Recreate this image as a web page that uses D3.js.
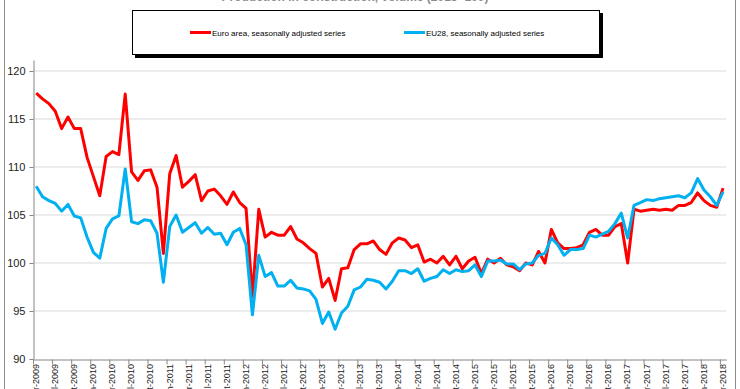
<!DOCTYPE html>
<html>
<head>
<meta charset="utf-8">
<script src="https://cdn.jsdelivr.net/npm/d3@7"></script>
<style>
  body { margin: 0; background: #fff; }
  svg { display: block; font-family: "Liberation Sans", Arial, sans-serif; }
</style>
</head>
<body>
<svg id="chart"></svg>
<script>
// monthly, Apr-2009 .. Apr-2018
var months = d3.timeMonth.range(new Date(2009, 3, 1), new Date(2018, 4, 1));

var euroArea = [
  117.7, 117.1, 116.6, 115.8, 114.0, 115.2, 114.0, 114.0, 111.0, 109.0,
  107.0, 111.1, 111.6, 111.3, 117.6, 109.5, 108.6, 109.6, 109.7, 107.9,
  101.0, 109.3, 111.2, 107.9, 108.5, 109.2, 106.5, 107.5, 107.7, 107.0,
  106.1, 107.4, 106.3, 105.7, 96.5, 105.6, 102.7, 103.2, 102.9, 102.9,
  103.8, 102.5, 102.1, 101.5, 101.0, 97.5, 98.4, 96.1, 99.4, 99.5,
  101.4, 102.0, 102.0, 102.3, 101.4, 100.9, 102.1, 102.6, 102.4, 101.6,
  101.9, 100.1, 100.4, 100.0, 100.7, 99.8, 100.7, 99.4, 100.2, 100.6,
  98.9, 100.4, 100.0, 100.5, 99.8, 99.6, 99.2, 100.0, 99.8, 101.2,
  100.0, 103.5, 102.1, 101.5, 101.5, 101.6, 101.9, 103.2, 103.5, 102.9,
  102.9, 103.8, 104.1, 100.0, 105.6, 105.4, 105.5, 105.6, 105.5, 105.6,
  105.5, 106.0, 106.0, 106.3, 107.3, 106.5, 106.0, 105.8, 107.8
];

var eu28 = [
  108.0, 106.9, 106.5, 106.2, 105.4, 106.1, 104.9, 104.7, 102.7, 101.1,
  100.5, 103.6, 104.6, 104.9, 109.8, 104.3, 104.1, 104.5, 104.4, 103.1,
  98.0, 103.8, 105.0, 103.2, 103.7, 104.2, 103.1, 103.7, 103.0, 103.1,
  101.9, 103.2, 103.6, 101.9, 94.6, 100.8, 98.6, 99.0, 97.6, 97.6,
  98.2, 97.4, 97.3, 97.1, 96.2, 93.7, 94.9, 93.1, 94.8, 95.5,
  97.2, 97.5, 98.3, 98.2, 98.0, 97.3, 98.1, 99.2, 99.2, 98.9,
  99.4, 98.1, 98.4, 98.6, 99.3, 98.9, 99.3, 99.1, 99.2, 99.8,
  98.6, 100.2, 100.2, 100.3, 99.9, 99.9, 99.3, 99.9, 100.0, 100.8,
  101.0, 102.6, 101.9, 100.8, 101.4, 101.4, 101.5, 102.9, 102.7, 103.0,
  103.3, 104.1, 105.2, 102.6, 106.0, 106.3, 106.6, 106.5, 106.7, 106.8,
  106.9, 107.0, 106.8, 107.3, 108.8, 107.6, 106.9, 106.0, 107.4
];

var yTicks = [90, 95, 100, 105, 110, 115, 120];
var monthFmt = d3.timeFormat("%b-%Y");

var width = 740, height = 389;
var svg = d3.select("#chart").attr("width", width).attr("height", height);

// outer frame (top and bottom fall outside the picture)
svg.append("rect")
  .attr("x", 4.5).attr("y", -20)
  .attr("width", 731).attr("height", 430)
  .attr("fill", "none").attr("stroke", "#8c8c8c");

// cut-off title
svg.append("text")
  .attr("x", 355).attr("y", 0.5)
  .attr("text-anchor", "middle")
  .style("font-size", "12px").style("font-weight", "bold")
  .attr("fill", "#8c8c8c")
  .text("Production in construction, volume (2015=100)");

var x = d3.scaleBand().domain(months).range([33, 33 + months.length * 6.36]).padding(0);
var xEdge = d3.scaleLinear().domain([0, months.length]).range(x.range());
var y = d3.scaleLinear().domain([90, 90 + 299 / 9.6]).range([359, 60]);

// gridlines
svg.append("g")
  .selectAll("line")
  .data(yTicks.filter(function(d) { return d > 90; }))
  .enter().append("line")
  .attr("x1", 33).attr("x2", x.range()[1])
  .attr("y1", function(d) { return y(d); })
  .attr("y2", function(d) { return y(d); })
  .attr("stroke", "#d9d9d9").attr("stroke-width", 1);

var yAxis = svg.append("g")
  .attr("transform", "translate(33.5,0)")
  .call(d3.axisLeft(y).tickValues(yTicks).tickSize(4).tickSizeOuter(0).tickPadding(4));
yAxis.selectAll("path, line").attr("stroke", "#868686");
yAxis.selectAll("text").style("font-size", "11px").attr("fill", "#222");

var xTickIdx = d3.range(0, months.length, 3);
var xAxis = svg.append("g")
  .attr("transform", "translate(0,359.5)")
  .call(d3.axisBottom(xEdge).tickValues(xTickIdx).tickFormat("").tickSize(5).tickSizeOuter(0));
xAxis.selectAll("path, line").attr("stroke", "#868686");

svg.append("g")
  .selectAll("text")
  .data(xTickIdx)
  .enter().append("text")
  .attr("transform", function(i) {
    return "translate(" + (x(months[i]) + 2.8) + ",364) rotate(-90)";
  })
  .attr("text-anchor", "end")
  .attr("dy", "0.35em")
  .style("font-size", "9px")
  .attr("fill", "#222")
  .text(function(i) { return monthFmt(months[i]); });

var line = d3.line()
  .x(function(d, i) { return x(months[i]) + x.bandwidth() / 2; })
  .y(function(d) { return y(d); });

svg.append("path").datum(euroArea)
  .attr("d", line).attr("fill", "none")
  .attr("stroke", "#ff0000").attr("stroke-width", 3).attr("stroke-linejoin", "round");

svg.append("path").datum(eu28)
  .attr("d", line).attr("fill", "none")
  .attr("stroke", "#00b0f0").attr("stroke-width", 3).attr("stroke-linejoin", "round");

// legend
var legend = svg.append("g");
legend.append("rect")
  .attr("x", 135).attr("y", 13).attr("width", 468).attr("height", 45)
  .attr("fill", "#000");
legend.append("rect")
  .attr("x", 132.5).attr("y", 10.5).attr("width", 467).attr("height", 44)
  .attr("fill", "#fff").attr("stroke", "#000").attr("stroke-width", 1);

var legendItems = [
  { name: "Euro area, seasonally adjusted series", color: "#ff0000", x: 190 },
  { name: "EU28, seasonally adjusted series", color: "#00b0f0", x: 404 }
];
legendItems.forEach(function(it) {
  legend.append("line")
    .attr("x1", it.x).attr("x2", it.x + 21)
    .attr("y1", 32.5).attr("y2", 32.5)
    .attr("stroke", it.color).attr("stroke-width", 3);
  legend.append("text")
    .attr("x", it.x + 22).attr("y", 35.5)
    .style("font-size", "8px").attr("fill", "#000")
    .text(it.name);
});
</script>
</body>
</html>
